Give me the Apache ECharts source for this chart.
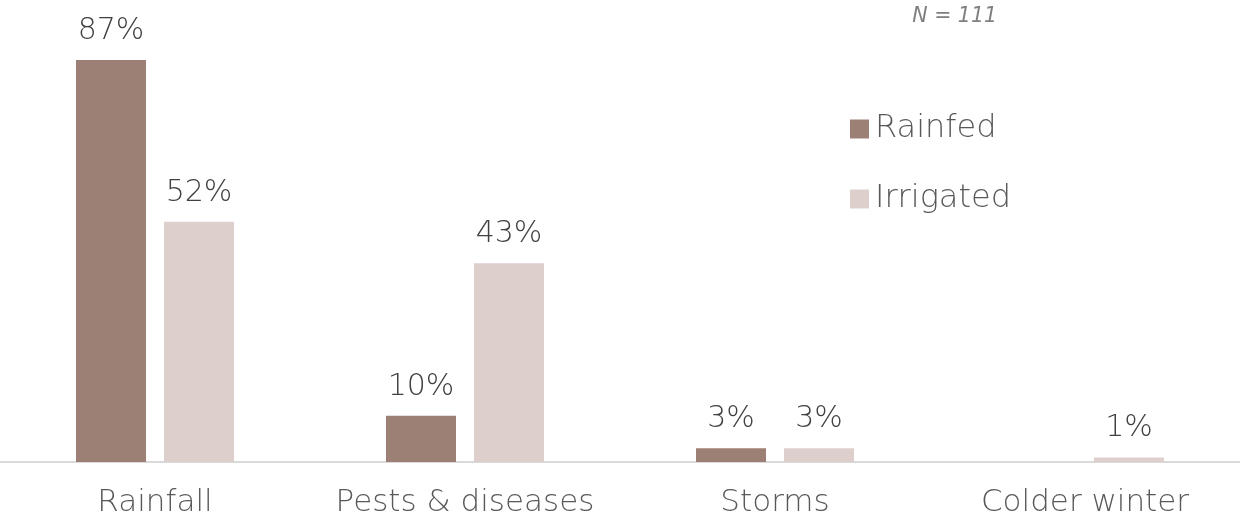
<!DOCTYPE html>
<html><head><meta charset="utf-8">
<script src="https://cdn.jsdelivr.net/npm/echarts@6/dist/echarts.min.js"></script>
<style>html,body{margin:0;padding:0;background:#fff}#c{width:1240px;height:523px}</style>
</head><body><div id="c"></div>
<script>
const categories = ['Rainfall', 'Pests & diseases', 'Storms', 'Colder winter'];
const rainfed = [87, 10, 3, null];
const irrigated = [52, 43, 3, 1];
const seriesNames = ['Rainfed', 'Irrigated'];
const note = 'N = 111';
const FONT = 'DejaVu Sans';
const chart = echarts.init(document.getElementById('c'));
const lbl = {show: true, position: 'top', distance: 14, formatter: '{c}%', fontFamily: FONT, fontWeight: 200, fontSize: 30, color: '#404040'};
chart.setOption({
  animation: false,
  textStyle: {fontFamily: FONT},
  grid: {left: 0, right: 0, top: 0, bottom: 61},
  title: {text: note, right: 238, top: 2, textStyle: {fontFamily: FONT, fontStyle: 'italic', fontWeight: 200, fontSize: 20.5, color: '#7f7f7f'}},
  legend: {orient: 'vertical', left: 845, top: 108, itemWidth: 19, itemHeight: 19, itemGap: 38,
    icon: 'rect', textStyle: {fontFamily: FONT, fontWeight: 200, fontSize: 32, color: '#595959', padding: [0,0,0,1]}, data: seriesNames},
  xAxis: {type: 'category', data: categories,
    axisLine: {lineStyle: {color: '#d9d9d9', width: 2}}, axisTick: {show: false},
    axisLabel: {interval: 0, hideOverlap: false, fontFamily: FONT, fontWeight: 200, fontSize: 31, color: '#595959', margin: 25}},
  yAxis: {type: 'value', min: 0, max: 100, show: false, splitLine: {show: false}},
  series: [
    {name: seriesNames[0], type: 'bar', data: rainfed, barWidth: 70, barGap: '25.7%', itemStyle: {color: '#9c7f75'}, label: lbl},
    {name: seriesNames[1], type: 'bar', data: irrigated, barWidth: 70, itemStyle: {color: '#ddd0cc'}, label: lbl}
  ]
});
</script></body></html>
